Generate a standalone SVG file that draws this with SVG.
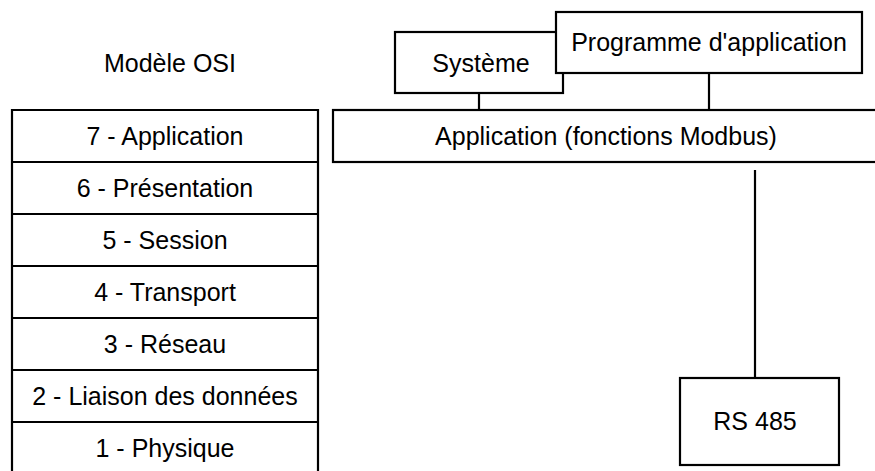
<svg xmlns="http://www.w3.org/2000/svg" width="875" height="471" viewBox="0 0 875 471">
<style>
.box{fill:#fff;stroke:#000;stroke-width:2.2}
.ln{stroke:#000;stroke-width:2.2;fill:none}
text{font-family:"Liberation Sans",Arial,sans-serif;font-size:25px;fill:#000;text-anchor:middle}
</style>
<rect width="875" height="471" fill="#fff"/>
<text x="170" y="72">Modèle OSI</text>
<g id="osi">
<path class="ln" d="M12,471 V110 H318 V471"/>
<g id="l7"><path class="ln" d="M12,162 H318"/><text x="165" y="145">7 - Application</text></g>
<g id="l6"><path class="ln" d="M12,214 H318"/><text x="165" y="197">6 - Présentation</text></g>
<g id="l5"><path class="ln" d="M12,266 H318"/><text x="165" y="249">5 - Session</text></g>
<g id="l4"><path class="ln" d="M12,318 H318"/><text x="165" y="301">4 - Transport</text></g>
<g id="l3"><path class="ln" d="M12,370 H318"/><text x="165" y="353">3 - Réseau</text></g>
<g id="l2"><path class="ln" d="M12,422 H318"/><text x="165" y="405">2 - Liaison des données</text></g>
<g id="l1"><text x="165" y="457">1 - Physique</text></g>
</g>
<g id="connectors">
<line class="ln" x1="479" y1="93" x2="479" y2="110"/>
<line class="ln" x1="709" y1="73" x2="709" y2="110"/>
<line class="ln" x1="755" y1="170" x2="755" y2="378"/>
</g>
<g id="systeme"><rect class="box" x="395" y="32" width="168" height="61"/><text x="481" y="72">Système</text></g>
<g id="programme"><rect class="box" x="556" y="12" width="306" height="61"/><text x="709" y="51">Programme d'application</text></g>
<g id="app"><rect class="box" x="333" y="110" width="560" height="52"/><text x="606" y="145">Application (fonctions Modbus)</text></g>
<g id="rs485"><rect class="box" x="680" y="378" width="159" height="87"/><text x="755" y="430">RS 485</text></g>
</svg>
